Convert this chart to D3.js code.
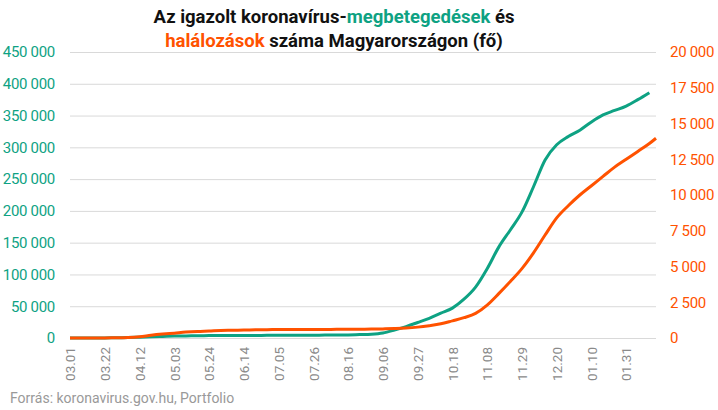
<!DOCTYPE html>
<html>
<head>
<meta charset="utf-8">
<script src="https://cdn.jsdelivr.net/npm/d3@7"></script>
<style>
  body { margin: 0; background: #fff; }
  svg text { font-family: Roboto, "Noto Sans", sans-serif; }
</style>
</head>
<body>
<div id="chart"></div>
<script>
// weekly readings (cumulative)
var dates = ["2020-03-01","2020-03-08","2020-03-15","2020-03-22","2020-03-29","2020-04-05","2020-04-12",
  "2020-04-19","2020-04-26","2020-05-03","2020-05-10","2020-05-17","2020-05-24","2020-05-31",
  "2020-06-07","2020-06-14","2020-06-21","2020-06-28","2020-07-05","2020-07-12","2020-07-19",
  "2020-07-26","2020-08-02","2020-08-09","2020-08-16","2020-08-23","2020-08-30","2020-09-06",
  "2020-09-13","2020-09-20","2020-09-27","2020-10-04","2020-10-11","2020-10-18","2020-10-25",
  "2020-11-01","2020-11-08","2020-11-15","2020-11-22","2020-11-29","2020-12-06","2020-12-13",
  "2020-12-20","2020-12-27","2021-01-03","2021-01-10","2021-01-17","2021-01-24","2021-01-31",
  "2021-02-07","2021-02-14","2021-02-18"];

var cases = [0, 7, 32, 167, 447, 733, 1310,
  1916, 2500, 2960, 3263, 3509, 3741, 3876,
  3990, 4070, 4100, 4150, 4200, 4250, 4300,
  4400, 4540, 4700, 4900, 5400, 6000, 7900,
  12500, 17990, 24400, 31000, 39000, 47000, 61000,
  80000, 109000, 143000, 170000, 198000, 238000, 280000,
  304000, 317000, 327000, 340000, 351000, 358000, 365000,
  375000, 386000, null];

var deaths = [0, 0, 0, 7, 15, 34, 85,
  189, 272, 340, 413, 462, 491, 527,
  540, 555, 570, 585, 590, 595, 596,
  596, 599, 604, 609, 614, 625, 637,
  660, 695, 760, 860, 990, 1200, 1420,
  1720, 2300, 3100, 3950, 4850, 5950, 7200,
  8400, 9250, 10000, 10650, 11300, 11950, 12500,
  13050, 13600, 13970];

var tickDates = ["2020-03-01","2020-03-22","2020-04-12","2020-05-03","2020-05-24","2020-06-14",
  "2020-07-05","2020-07-26","2020-08-16","2020-09-06","2020-09-27","2020-10-18","2020-11-08",
  "2020-11-29","2020-12-20","2021-01-10","2021-01-31"];
var casesTicks = [0, 50000, 100000, 150000, 200000, 250000, 300000, 350000, 400000, 450000];
var deathsTicks = [0, 2500, 5000, 7500, 10000, 12500, 15000, 17500, 20000];

var green = "#0ea283";
var orange = "#ff5200";

var svgWidth = 718, svgHeight = 410;
var plotLeft = 70, plotRight = 656, plotTop = 52, plotBottom = 338;

var parse = d3.timeParse("%Y-%m-%d");
var huLocale = d3.formatLocale({decimal: ",", thousands: "\u00a0", grouping: [3], currency: ["", " Ft"]});
var fmt = huLocale.format(",d");

var rows = dates.map(function(d, i) {
    return {date: parse(d), cases: cases[i], deaths: deaths[i]};
});

var svg = d3.select("#chart")
    .append("svg")
    .attr("width", svgWidth)
    .attr("height", svgHeight);

var x = d3.scaleTime()
    .domain([parse(dates[0]), parse(dates[dates.length - 1])])
    .range([plotLeft, plotRight]);

var yCases = d3.scaleLinear().domain([0, 450000]).range([plotBottom, plotTop]);
var yDeaths = d3.scaleLinear().domain([0, 20000]).range([plotBottom, plotTop]);

// left axis + gridlines
var yAxisLeft = svg.append("g")
    .attr("transform", "translate(" + plotLeft + ",0)")
    .call(d3.axisLeft(yCases).tickValues(casesTicks).tickFormat(fmt)
        .tickSize(-(plotRight - plotLeft)).tickPadding(15));
yAxisLeft.select(".domain").remove();
yAxisLeft.selectAll("line").attr("stroke", "#d9d9d9");
yAxisLeft.selectAll("text")
    .attr("fill", green)
    .style("font-size", "15px")
    .style("letter-spacing", "-0.3px");

// right axis
var yAxisRight = svg.append("g")
    .attr("transform", "translate(" + plotRight + ",0)")
    .call(d3.axisRight(yDeaths).tickValues(deathsTicks).tickFormat(fmt)
        .tickSize(0).tickPadding(14));
yAxisRight.select(".domain").remove();
yAxisRight.selectAll("text")
    .attr("fill", orange)
    .style("font-size", "15px")
    .style("letter-spacing", "-0.3px");

// x axis
var xAxis = svg.append("g")
    .attr("transform", "translate(0," + plotBottom + ")")
    .call(d3.axisBottom(x).tickValues(tickDates.map(parse))
        .tickFormat(d3.timeFormat("%m.%d")).tickSize(0));
xAxis.select(".domain").remove();
xAxis.selectAll("text")
    .attr("transform", "rotate(-90)")
    .attr("x", -9)
    .attr("y", 0)
    .attr("dy", "0.35em")
    .style("text-anchor", "end")
    .style("font-size", "13.5px")
    .attr("fill", "#8a8a8a");

// lines
var casesLine = d3.line()
    .defined(function(d) { return d.cases != null; })
    .x(function(d) { return x(d.date); })
    .y(function(d) { return yCases(d.cases); })
    .curve(d3.curveMonotoneX);

var deathsLine = d3.line()
    .x(function(d) { return x(d.date); })
    .y(function(d) { return yDeaths(d.deaths); })
    .curve(d3.curveMonotoneX);

svg.append("path")
    .datum(rows)
    .attr("d", casesLine)
    .attr("fill", "none")
    .attr("stroke", green)
    .attr("stroke-width", 3);

svg.append("path")
    .datum(rows)
    .attr("d", deathsLine)
    .attr("fill", "none")
    .attr("stroke", orange)
    .attr("stroke-width", 3);

// title
var title = svg.append("text")
    .attr("text-anchor", "middle")
    .style("font-size", "18.5px")
    .style("font-weight", "bold")
    .attr("fill", "#111");

var l1 = title.append("tspan").attr("x", 334).attr("y", 23);
l1.append("tspan").text("Az igazolt koronavírus-");
l1.append("tspan").attr("fill", green).text("megbetegedések");
l1.append("tspan").text(" és");

var l2 = title.append("tspan").attr("x", 334).attr("y", 47);
l2.append("tspan").attr("fill", orange).text("halálozások");
l2.append("tspan").text(" száma Magyarországon (fő)");

// source
svg.append("text")
    .attr("x", 10)
    .attr("y", 403)
    .style("font-size", "14px")
    .attr("fill", "#999")
    .text("Forrás: koronavirus.gov.hu, Portfolio");
</script>
</body>
</html>
